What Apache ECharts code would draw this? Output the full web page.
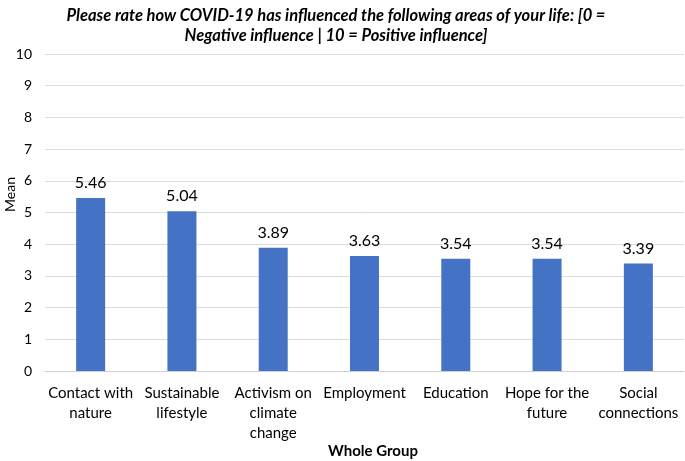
<!DOCTYPE html>
<html><head><meta charset="utf-8">
<script src="https://cdn.jsdelivr.net/npm/echarts@6/dist/echarts.min.js"></script>
<style>html,body{margin:0;padding:0;background:#fff}#c{width:685px;height:461px}</style>
</head><body><div id="c"></div>
<script>
var categories = ['Contact with\nnature','Sustainable\nlifestyle','Activism on\nclimate\nchange','Employment','Education','Hope for the\nfuture','Social\nconnections'];
var means = [5.46, 5.04, 3.89, 3.63, 3.54, 3.54, 3.39];
var titleLines = 'Please rate how COVID-19 has influenced the following areas of your life: [0 =\nNegative influence | 10 = Positive influence]';
var FONT = 'Lato, "Open Sans", sans-serif';
var chart = echarts.init(document.getElementById('c'));
chart.setOption({
  animation: false,
  title: {
    text: titleLines, left: 331, top: 1, textAlign: 'center',
    textStyle: {fontFamily: FONT, fontSize: 16.5, fontWeight: 'bold', fontStyle: 'italic', color: '#000', lineHeight: 20}
  },
  grid: {left: 45, right: 1, top: 54, bottom: 90, outerBoundsMode: 'none', containLabel: false},
  xAxis: {
    type: 'category', data: categories,
    axisLine: {lineStyle: {color: '#d0d0d0'}},
    axisTick: {length: 5, lineStyle: {color: '#d0d0d0'}},
    axisLabel: {fontFamily: FONT, fontSize: 15, color: '#000', lineHeight: 20, margin: 12, interval: 0}
  },
  yAxis: {
    type: 'value', min: 0, max: 10, interval: 1,
    axisLine: {show: false}, axisTick: {show: false},
    splitLine: {lineStyle: {color: '#dcdcdc'}},
    axisLabel: {fontFamily: FONT, fontSize: 14, color: '#000', margin: 13}
  },
  graphic: [{
    type: 'text', left: 3, top: 177, rotation: Math.PI/2,
    style: {text: 'Mean', font: '14px ' + FONT, fill: '#000'}
  }, {
    type: 'text', x: 373, y: 451,
    style: {text: 'Whole Group', font: 'bold 15px ' + FONT, fill: '#000', align: 'center', verticalAlign: 'middle'}
  }],
  series: [{
    type: 'bar', data: means, barWidth: 29,
    itemStyle: {color: '#4472c4'},
    label: {show: true, position: 'top', distance: 7, fontFamily: FONT, fontSize: 16, color: '#000', formatter: function(p){return p.value.toFixed(2);}}
  }]
});
</script></body></html>
